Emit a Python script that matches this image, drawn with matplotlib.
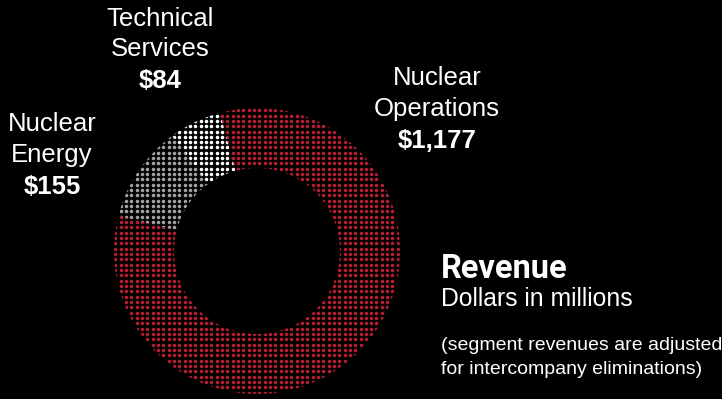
import matplotlib
matplotlib.use("Agg")
import matplotlib.pyplot as plt
import numpy as np

categories = ["Technical Services", "Nuclear Energy", "Nuclear Operations"]
values = [84, 155, 1177]
value_labels = ["$84", "$155", "$1,177"]
colors = ["#ffffff", "#a3a3a3", "#b81d33"]

W, H = 722, 399
fig = plt.figure(figsize=(W / 100, H / 100), dpi=100, facecolor="black")
ax = fig.add_axes([0, 0, 1, 1])
ax.set_facecolor("black")

cx, cy = 257, H - 251
R, ring = 143, 60

wedges, _ = ax.pie(values, center=(cx, cy), radius=R, startangle=105,
                   counterclock=True, wedgeprops=dict(width=ring, facecolor="none",
                                                     edgecolor="none", linewidth=0))

step = 5.33
gx = np.arange(cx - R - 4, cx + R + 4, step)
gy = np.arange(cy - R - 4, cy + R + 4, step)
XX, YY = np.meshgrid(gx, gy)
XX, YY = XX.ravel(), YY.ravel()
for w, c in zip(wedges, colors):
    sc = ax.scatter(XX, YY, s=6.5, c=c, marker="o", linewidths=0)
    sc.set_clip_path(w)

ax.set_xlim(0, W)
ax.set_ylim(0, H)
ax.set_aspect("equal")
ax.axis("off")

font = "Liberation Sans"
lab = dict(color="white", family=font, fontsize=18.5, ha="center", va="center")
# Technical Services
ax.text(160, H - 19, "Technical", **lab)
ax.text(160, H - 49, "Services", **lab)
ax.text(160, H - 81, value_labels[0], fontweight="bold", **lab)
# Nuclear Energy
ax.text(52, H - 124, "Nuclear", **lab)
ax.text(52, H - 155, "Energy", **lab)
ax.text(52, H - 187, value_labels[1], fontweight="bold", **lab)
# Nuclear Operations
ax.text(437, H - 78, "Nuclear", **lab)
ax.text(437, H - 109, "Operations", **lab)
ax.text(437, H - 141, value_labels[2], fontweight="bold", **lab)

ax.text(441, H - 269, "Revenue", color="white", family="Roboto", fontweight="bold",
        fontsize=23.5, ha="left", va="center")
ax.text(441, H - 299, "Dollars in millions", color="white", family=font,
        fontsize=17.8, ha="left", va="center")
ax.text(441, H - 345, "(segment revenues are adjusted", color="white", family=font,
        fontsize=14, ha="left", va="center")
ax.text(441, H - 369, "for intercompany eliminations)", color="white", family=font,
        fontsize=14, ha="left", va="center")

fig.savefig("out.png", dpi=100, facecolor="black")
